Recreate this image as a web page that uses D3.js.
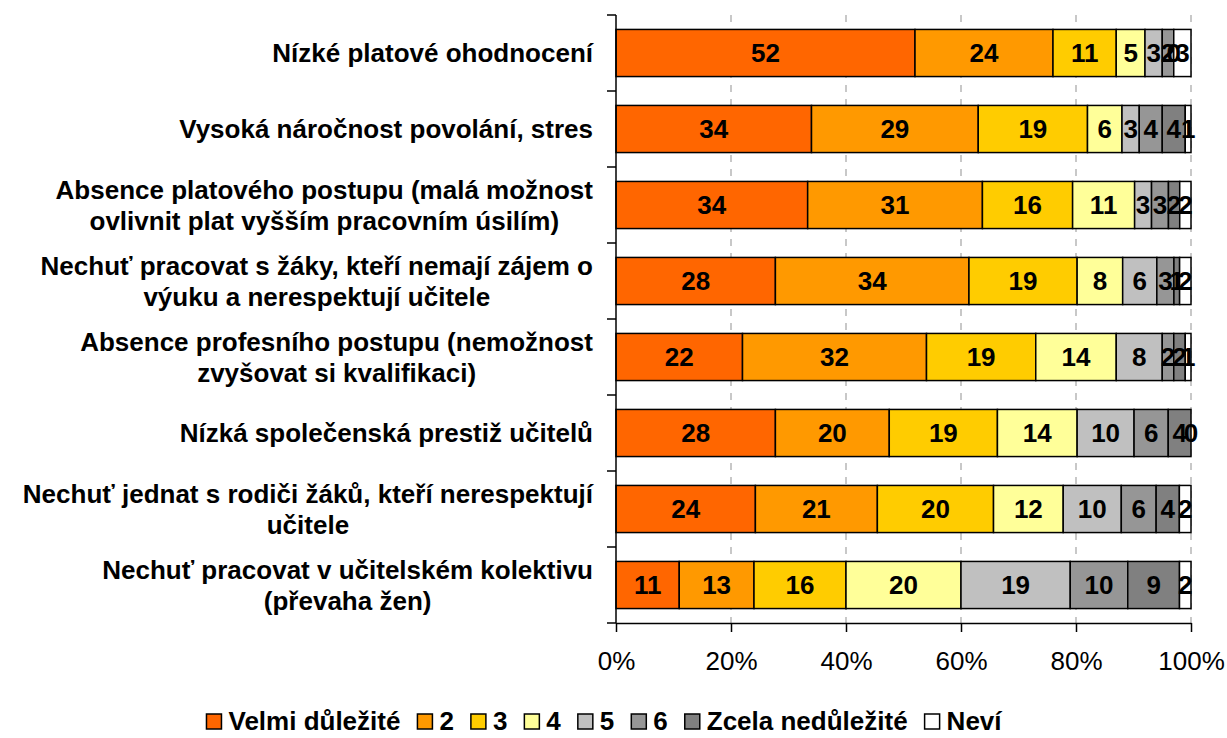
<!DOCTYPE html>
<html>
<head>
<meta charset="utf-8">
<script src="https://cdn.jsdelivr.net/npm/d3@7"></script>
<style>
  body { margin: 0; background: #fff; }
  text { font-family: "Liberation Sans", Arial, sans-serif; }
</style>
</head>
<body>
<svg id="chart" width="1227" height="738"></svg>
<script>
'use strict';

// categories, top to bottom ("\n" = line break in the label)
var categories = [
    'Nízké platové ohodnocení',
    'Vysoká náročnost povolání, stres',
    'Absence platového postupu (malá možnost\novlivnit plat vyšším pracovním úsilím)',
    'Nechuť pracovat s žáky, kteří nemají zájem o\nvýuku a nerespektují učitele',
    'Absence profesního postupu (nemožnost\nzvyšovat si kvalifikaci)',
    'Nízká společenská prestiž učitelů',
    'Nechuť jednat s rodiči žáků, kteří nerespektují\nučitele',
    'Nechuť pracovat v učitelském kolektivu\n(převaha žen)'
];

var seriesNames = ['Velmi důležité', '2', '3', '4', '5', '6', 'Zcela nedůležité', 'Neví'];
var seriesColors = ['#FF6600', '#FF9900', '#FFCC00', '#FFFF99', '#C0C0C0', '#969696', '#808080', '#FFFFFF'];

// one array per series, in category order
var velmiDulezite = [52, 34, 34, 28, 22, 28, 24, 11];
var s2            = [24, 29, 31, 34, 32, 20, 21, 13];
var s3            = [11, 19, 16, 19, 19, 19, 20, 16];
var s4            = [ 5,  6, 11,  8, 14, 14, 12, 20];
var s5            = [ 3,  3,  3,  6,  8, 10, 10, 19];
var s6            = [ 2,  4,  3,  3,  2,  6,  6, 10];
var zcela         = [ 0,  4,  2,  1,  2,  4,  4,  9];
var nevi          = [ 3,  1,  2,  2,  1,  0,  2,  2];

var xTicks = [0, 0.2, 0.4, 0.6, 0.8, 1];

var seriesValues = [velmiDulezite, s2, s3, s4, s5, s6, zcela, nevi];

var svg = d3.select('#chart');

var margin = {left: 616, right: 36, top: 15, bottom: 115};
var W = 1227, H = 738;
var FS = 26;

var x = d3.scaleLinear().domain([0, 1]).range([margin.left, W - margin.right]);
var y = d3.scaleBand().domain(d3.range(categories.length))
    .range([margin.top, H - margin.bottom]).paddingInner(0.38).paddingOuter(0.19);

// build rows of normalised stacked segments
var rows = categories.map(function (c, i) {
    var total = d3.sum(seriesValues, function (s) { return s[i]; });
    var acc = 0;
    return seriesValues.map(function (s, k) {
        var seg = {cat: i, series: k, value: s[i], x0: acc / total, x1: (acc + s[i]) / total};
        acc += s[i];
        return seg;
    });
});

// dashed gridlines
svg.append('g').selectAll('line')
    .data(xTicks.slice(1))
  .enter().append('line')
    .attr('x1', function (d) { return x(d); })
    .attr('x2', function (d) { return x(d); })
    .attr('y1', margin.top)
    .attr('y2', H - margin.bottom)
    .attr('stroke', '#c8c8c8')
    .attr('stroke-width', 2)
    .attr('stroke-dasharray', '7,7');

// bars
var bars = svg.append('g');
bars.selectAll('rect')
    .data(d3.merge(rows).filter(function (d) { return d.value > 0; }))
  .enter().append('rect')
    .attr('x', function (d) { return x(d.x0); })
    .attr('width', function (d) { return x(d.x1) - x(d.x0); })
    .attr('y', function (d) { return y(d.cat); })
    .attr('height', y.bandwidth())
    .attr('fill', function (d) { return seriesColors[d.series]; })
    .attr('stroke', '#000')
    .attr('stroke-width', 1.5);

// value labels
bars.selectAll('text')
    .data(d3.merge(rows))
  .enter().append('text')
    .attr('x', function (d) { return (x(d.x0) + x(d.x1)) / 2; })
    .attr('y', function (d) { return y(d.cat) + y.bandwidth() / 2; })
    .attr('dy', '0.36em')
    .attr('text-anchor', 'middle')
    .attr('font-size', FS)
    .attr('font-weight', 'bold')
    .text(function (d) { return d.value; });

// y axis line and ticks
var bottom = H - margin.bottom;
svg.append('line')
    .attr('x1', margin.left).attr('x2', margin.left)
    .attr('y1', margin.top).attr('y2', bottom)
    .attr('stroke', '#000').attr('stroke-width', 1.5);
svg.append('g').selectAll('line')
    .data(d3.range(categories.length + 1))
  .enter().append('line')
    .attr('x1', margin.left - 9).attr('x2', margin.left)
    .attr('y1', function (d) { return margin.top + d * y.step(); })
    .attr('y2', function (d) { return margin.top + d * y.step(); })
    .attr('stroke', '#000').attr('stroke-width', 1.5);

// category labels: block right-aligned at 593, lines centred inside the block
var catLabels = svg.append('g').selectAll('text')
    .data(categories)
  .enter().append('text')
    .attr('text-anchor', 'middle')
    .attr('font-size', FS)
    .attr('font-weight', 'bold')
    .attr('y', function (d, i) { return y(i) + y.bandwidth() / 2; });
catLabels.each(function (d) {
    var lines = d.split('\n');
    var t = d3.select(this);
    var spans = lines.map(function (l, j) {
        return t.append('tspan')
            .attr('dy', j === 0 ? (0.36 - (lines.length - 1) * 0.6) + 'em' : '1.2em')
            .text(l);
    });
    var maxW = d3.max(spans, function (s) { return s.node().getComputedTextLength(); });
    spans.forEach(function (s) { s.attr('x', 593 - maxW / 2); });
});

// x axis
var xAxis = svg.append('g')
    .attr('transform', 'translate(0,' + bottom + ')')
    .call(d3.axisBottom(x).tickValues(xTicks).tickFormat(d3.format('.0%')).tickSizeInner(9).tickSizeOuter(0));
xAxis.select('.domain').attr('stroke-width', 1.5);
xAxis.selectAll('.tick line').attr('stroke-width', 1.5);
xAxis.selectAll('.tick text')
    .attr('font-size', FS)
    .attr('font-family', '"Liberation Sans", Arial, sans-serif')
    .attr('y', 29);

// legend
var legend = svg.append('g');
var lx = 0;
seriesNames.forEach(function (name, k) {
    var item = legend.append('g').attr('transform', 'translate(' + lx + ',0)');
    item.append('rect')
        .attr('x', 0).attr('y', -7)
        .attr('width', 15).attr('height', 15)
        .attr('fill', seriesColors[k])
        .attr('stroke', '#000').attr('stroke-width', 1.5);
    var t = item.append('text')
        .attr('x', 22).attr('y', 0).attr('dy', '0.36em')
        .attr('font-size', 26).attr('font-weight', 'bold')
        .text(name);
    lx += 22 + t.node().getComputedTextLength() + 17;
});
legend.attr('transform', 'translate(' + (604 - (lx - 17) / 2) + ',721)');
</script>
</body>
</html>
